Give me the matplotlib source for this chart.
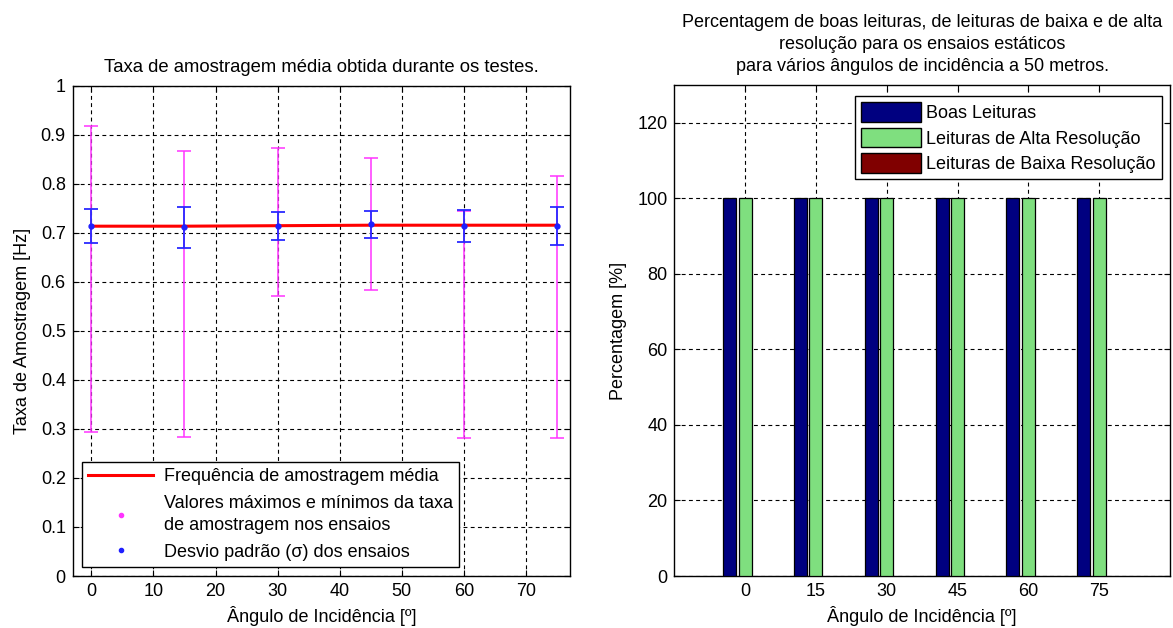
import matplotlib
matplotlib.use("Agg")
import matplotlib.pyplot as plt
from matplotlib.lines import Line2D
from matplotlib.patches import Patch
import numpy as np

# ---- data: sampling rate per incidence angle ----
angles = [0, 15, 30, 45, 60, 75]
rate_mean = [0.714, 0.711, 0.714, 0.717, 0.714, 0.714]
rate_mean_line = [0.7135, 0.7135, 0.7145, 0.7155, 0.7155, 0.7155]
rate_max = [0.917, 0.867, 0.873, 0.853, 0.745, 0.815]
rate_min = [0.293, 0.283, 0.572, 0.584, 0.282, 0.282]
rate_sigma = [0.035, 0.042, 0.029, 0.027, 0.032, 0.039]

# ---- data: reading quality percentages ----
bar_angles = [0, 15, 30, 45, 60, 75]
boas_leituras = [100, 100, 100, 100, 100, 100]
alta_resolucao = [100, 100, 100, 100, 100, 100]
baixa_resolucao = [0, 0, 0, 0, 0, 0]

plt.rcParams['font.family'] = ['Liberation Sans', 'DejaVu Sans']
FS = 13
plt.rcParams['font.size'] = FS

grid_kw = dict(color='black', linestyle=(0, (3.5, 3)), linewidth=0.8)

fig = plt.figure(figsize=(11.73, 6.28), dpi=100)

# ---------------- left panel ----------------
ax1 = fig.add_axes([0.062, 0.0828, 0.424, 0.7807])
x = np.array(angles)
m = np.array(rate_mean)
ax1.errorbar(x, m, yerr=[m - np.array(rate_min), np.array(rate_max) - m],
             fmt='none', ecolor='#ff33ff', elinewidth=1.1, capsize=4.7,
             capthick=1.1, zorder=3)
ax1.plot(angles, rate_mean_line, color='#ff0000', linewidth=2.2, zorder=4)
ax1.errorbar(x, m, yerr=rate_sigma, fmt='o', color='#1f1fff', ms=3.5,
             ecolor='#2a2aff', elinewidth=1.3, capsize=4.7, capthick=1.3,
             zorder=5)
ax1.set_xlim(-3, 77.1)
ax1.set_ylim(0, 1)
ax1.set_xticks(range(0, 71, 10))
ax1.set_yticks(np.arange(0, 1.01, 0.1))
ax1.set_yticklabels(['0', '0.1', '0.2', '0.3', '0.4', '0.5', '0.6', '0.7',
                     '0.8', '0.9', '1'])
ax1.grid(True, **grid_kw)
ax1.set_axisbelow(True)
ax1.set_title('Taxa de amostragem média obtida durante os testes.',
              fontsize=13.3, pad=10)
ax1.set_xlabel('Ângulo de Incidência [º]', fontsize=FS, labelpad=4)
ax1.set_ylabel('Taxa de Amostragem [Hz]', fontsize=FS, labelpad=7)

h1 = [Line2D([], [], color='#ff0000', linewidth=2.2),
      Line2D([], [], linestyle='none', marker='o', ms=3, color='#ff33ff'),
      Line2D([], [], linestyle='none', marker='o', ms=3, color='#1f1fff')]
l1 = ['Frequência de amostragem média',
      'Valores máximos e mínimos da taxa\nde amostragem nos ensaios',
      'Desvio padrão (σ) dos ensaios']
leg1 = ax1.legend(h1, l1, loc='lower left',
                  bbox_to_anchor=(82 / 1173, 1 - 567 / 628),
                  bbox_transform=fig.transFigure, fontsize=FS,
                  fancybox=False, framealpha=1, edgecolor='black',
                  handlelength=3.6, borderpad=0.35, labelspacing=0.55,
                  handletextpad=0.6, borderaxespad=0)
leg1.get_frame().set_linewidth(1.0)
for t in leg1.get_texts():
    t.set_linespacing(1.35)

# ---------------- right panel ----------------
ax2 = fig.add_axes([0.5749, 0.0828, 0.4226, 0.7818])
bw = 2.75
off = 3.3
bx = np.array(bar_angles)
ax2.bar(bx - off, boas_leituras, width=bw, color='#000080', edgecolor='black',
        linewidth=0.9, zorder=3)
ax2.bar(bx, alta_resolucao, width=bw, color='#7fdf7f', edgecolor='black',
        linewidth=0.9, zorder=3)
ax2.bar(bx + off, baixa_resolucao, width=bw, color='#800000',
        edgecolor='black', linewidth=0.0, zorder=3)
ax2.set_xlim(-15, 90)
ax2.set_ylim(0, 130)
ax2.set_xticks(bar_angles)
ax2.set_yticks(range(0, 121, 20))
ax2.grid(True, **grid_kw)
ax2.set_axisbelow(True)
ax2.set_title('Percentagem de boas leituras, de leituras de baixa e de alta\n'
              'resolução para os ensaios estáticos\n'
              'para vários ângulos de incidência a 50 metros.',
              fontsize=FS, pad=10, linespacing=1.4)
ax2.set_xlabel('Ângulo de Incidência [º]', fontsize=FS, labelpad=4)
ax2.set_ylabel('Percentagem [%]', fontsize=FS, labelpad=7)

h2 = [Patch(facecolor='#000080', edgecolor='black'),
      Patch(facecolor='#7fdf7f', edgecolor='black'),
      Patch(facecolor='#800000', edgecolor='black')]
l2 = ['Boas Leituras', 'Leituras de Alta Resolução',
      'Leituras de Baixa Resolução']
leg2 = ax2.legend(h2, l2, loc='upper right',
                  bbox_to_anchor=(1162 / 1173, 1 - 96 / 628),
                  bbox_transform=fig.transFigure, fontsize=FS,
                  fancybox=False, framealpha=1, edgecolor='black',
                  handlelength=3.3, handleheight=1.3, borderpad=0.35,
                  labelspacing=0.3, handletextpad=0.3, borderaxespad=0)
leg2.get_frame().set_linewidth(1.0)

for ax in (ax1, ax2):
    ax.tick_params(direction='in', length=4, width=0.8, top=True, right=True,
                   labelsize=FS, pad=5)
    for s in ax.spines.values():
        s.set_linewidth(1.0)

fig.savefig('out.png', dpi=100, facecolor='white')
